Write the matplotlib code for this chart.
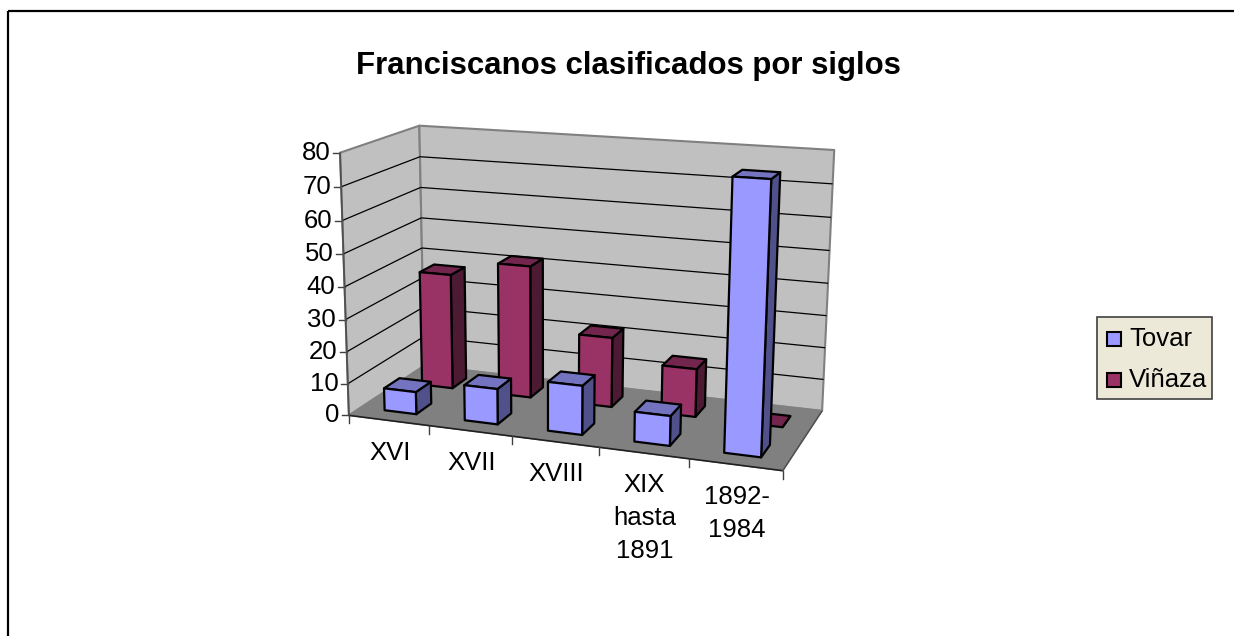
#!/usr/bin/env python3
# -*- coding: utf-8 -*-
"""Franciscanos clasificados por siglos: columnas 3D dibujadas con proyeccion propia."""

import numpy as np
import matplotlib
matplotlib.use("Agg")
import matplotlib.pyplot as plt
from matplotlib.patches import Polygon, Rectangle

plt.rcParams["font.family"] = ["Liberation Sans", "DejaVu Sans"]

categories = ["XVI", "XVII", "XVIII", "XIX\nhasta\n1891", "1892-\n1984"]
series_names = ["Tovar", "Viñaza"]
tovar = [7, 11, 15, 9, 79]
vinaza = [37, 42, 22, 15, 0]
y_ticks = [0, 10, 20, 30, 40, 50, 60, 70, 80]
y_max = 80

W, H = 1234, 636

# colores: frente, techo, lado
BLUE = ("#9999FF", "#7373BF", "#50508A")
MAROON = ("#993366", "#73264D", "#4D1A33")

# puntos de control (u, v, w) -> pixel, para ajustar la camara
CONTROL = [
    ((0, 0, 0), (349, 414)), ((0, 0, 1), (340, 153)),
    ((0, 1, 0), (424, 367)), ((0, 1, 1), (420, 125)),
    ((1, 1, 0), (822, 410)), ((1, 1, 1), (834, 150)),
    ((1, 0, 0), (783, 471)),
    ((0.2, 0, 0), (429, 425)), ((0.4, 0, 0), (513, 436)),
    ((0.6, 0, 0), (599, 447)), ((0.8, 0, 0), (689, 460)),
    ((0, 0, 0.25), (347, 352)), ((0, 0, 0.5), (344, 287)), ((0, 0, 0.75), (342, 221)),
]


def fit_camera(points):
    rows, rhs = [], []
    for (u, v, w), (px, py) in points:
        rows.append([u, v, w, 1, 0, 0, 0, 0, -px * u, -px * v, -px * w])
        rhs.append(px)
        rows.append([0, 0, 0, 0, u, v, w, 1, -py * u, -py * v, -py * w])
        rhs.append(py)
    sol = np.linalg.lstsq(np.array(rows, float), np.array(rhs, float), rcond=None)[0]
    return np.append(sol, 1.0).reshape(3, 4)


CAM = fit_camera(CONTROL)


def proj(u, v, w):
    p = CAM @ np.array([u, v, w, 1.0])
    return p[0] / p[2], p[1] / p[2]


def face(ax, pts, color, ec="black", lw=1.6, z=3):
    ax.add_patch(Polygon([proj(*p) for p in pts], closed=True, facecolor=color,
                         edgecolor=ec, linewidth=lw, joinstyle="round", zorder=z))


def seg(ax, a, b, color="black", lw=0.9, z=2):
    xa, ya = proj(*a)
    xb, yb = proj(*b)
    ax.plot([xa, xb], [ya, yb], color=color, lw=lw, zorder=z, solid_capstyle="butt")


def bar3d(ax, i, row, value, colors, z):
    n = len(categories)
    u0 = (i + 0.3) / n
    u1 = (i + 0.7) / n
    v0 = (row + 0.3) / 2
    v1 = (row + 0.7) / 2
    h = value / y_max
    front, top, side = colors
    face(ax, [(u1, v0, 0), (u1, v1, 0), (u1, v1, h), (u1, v0, h)], side, z=z)
    face(ax, [(u0, v0, h), (u1, v0, h), (u1, v1, h), (u0, v1, h)], top, z=z)
    if value > 0:
        face(ax, [(u0, v0, 0), (u1, v0, 0), (u1, v0, h), (u0, v0, h)], front, z=z)


def draw():
    fig = plt.figure(figsize=(W / 100, H / 100), dpi=100)
    ax = fig.add_axes([0, 0, 1, 1])
    ax.set_xlim(0, W)
    ax.set_ylim(H, 0)
    ax.axis("off")

    # marco exterior
    ax.add_patch(Rectangle((8, 11), W + 10, H + 10, fill=False, edgecolor="black", lw=1.6))

    ax.text(628, 66, "Franciscanos clasificados por siglos", fontsize=22.4,
            fontweight="bold", ha="center", va="center", color="black")

    # paredes y suelo
    face(ax, [(0, 0, 0), (0, 1, 0), (0, 1, 1), (0, 0, 1)], "#C0C0C0", ec="#808080", lw=1.5, z=1)
    face(ax, [(0, 1, 0), (1, 1, 0), (1, 1, 1), (0, 1, 1)], "#C0C0C0", ec="#808080", lw=1.5, z=1)
    face(ax, [(0, 0, 0), (1, 0, 0), (1, 1, 0), (0, 1, 0)], "#808080", ec="#808080", lw=1.0, z=1)

    # rejilla y eje de valores
    for t in y_ticks:
        w = t / y_max
        if 0 < t < y_max:
            seg(ax, (0, 0, w), (0, 1, w))
            seg(ax, (0, 1, w), (1, 1, w))
        x, y = proj(0, 0, w)
        ax.plot([x - 7, x], [y, y], color="#404040", lw=1.0, zorder=2)
        ax.text(x - 9.5, y, str(t), fontsize=18.5, ha="right", va="center", color="black")
    seg(ax, (0, 0, 0), (0, 0, 1), color="#505050", lw=1.3, z=2)
    seg(ax, (0, 0, 0), (1, 0, 0), color="#202020", lw=1.2, z=2)
    seg(ax, (1, 0, 0), (1, 1, 0), color="#505050", lw=1.1, z=2)

    # marcas y etiquetas de categorias
    n = len(categories)
    for i in range(n + 1):
        x, y = proj(i / n, 0, 0)
        ax.plot([x, x], [y, y + 8], color="#404040", lw=1.0, zorder=2)
    for i, name in enumerate(categories):
        x, y = proj((i + 0.5) / n, 0, 0)
        ax.text(x + 1, y + 20.5, name, fontsize=18.5, ha="center", va="top",
                color="black", linespacing=1.47)

    # columnas, fila del fondo primero
    for i in range(n):
        bar3d(ax, i, 1, vinaza[i], MAROON, 3)
    for i in range(n):
        bar3d(ax, i, 0, tovar[i], BLUE, 4)

    # leyenda
    ax.add_patch(Rectangle((1097, 317), 115, 82, facecolor="#ECE9D8", edgecolor="#404040", lw=1.2))
    for name, colors, y in zip(series_names, [BLUE, MAROON], [339, 380]):
        ax.add_patch(Rectangle((1107, y - 7), 14, 14, facecolor=colors[0], edgecolor="black", lw=1.5))
        ax.text(1129, y, name, fontsize=18.5, ha="left", va="center", color="black")

    fig.savefig("out.png", dpi=100, facecolor="white")
    plt.close(fig)


if __name__ == "__main__":
    draw()
